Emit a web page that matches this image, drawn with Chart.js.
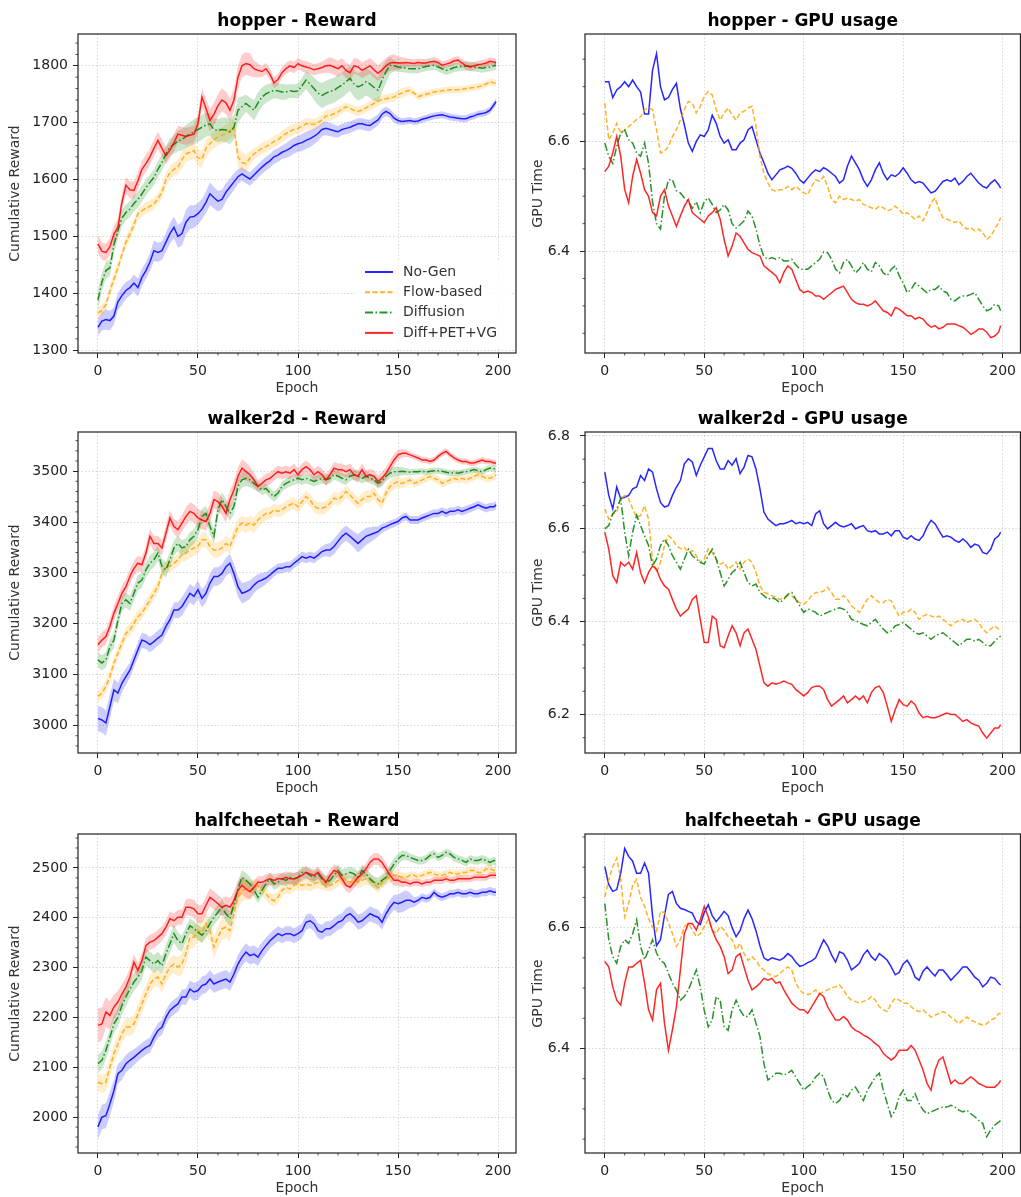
<!DOCTYPE html>
<html>
<head>
<meta charset="utf-8">
<script src="https://cdn.jsdelivr.net/npm/chart.js@4.4.1/dist/chart.umd.min.js"></script>
<style>
  html, body { margin: 0; padding: 0; background: #fff; overflow: hidden; }
  body { width: 1021px; height: 1197px; position: relative; }
  .panel { position: absolute; }
</style>
</head>
<body>
<div class="panel" style="left:0;top:0"><canvas id="c0" width="524" height="399"></canvas></div>
<div class="panel" style="left:520px;top:0"><canvas id="c1" width="501" height="399"></canvas></div>
<div class="panel" style="left:0;top:398px"><canvas id="c2" width="524" height="401"></canvas></div>
<div class="panel" style="left:520px;top:398px"><canvas id="c3" width="501" height="401"></canvas></div>
<div class="panel" style="left:0;top:800px"><canvas id="c4" width="524" height="399"></canvas></div>
<div class="panel" style="left:520px;top:800px"><canvas id="c5" width="501" height="399"></canvas></div>
<script>
// epochs every 2 epochs, last one 199
const epochs = [0,2,4,6,8,10,12,14,16,18, 20,22,24,26,28,30,32,34,36,38, 40,42,44,46,48,50,52,54,56,58, 60,62,64,66,68,70,72,74,76,78, 80,82,84,86,88,90,92,94,96,98,
  100,102,104,106,108,110,112,114,116,118, 120,122,124,126,128,130,132,134,136,138, 140,142,144,146,148,150,152,154,156,158, 160,162,164,166,168,170,172,174,176,178, 180,182,184,186,188,190,192,194,196,198, 199];
const seriesNames = ['No-Gen', 'Flow-based', 'Diffusion', 'Diff+PET+VG'];

// hopper - Reward
const hopperRewardNoGen = [1340,1351,1354,1352,1360,1385,1396,1405,1410,1418, 1410,1428,1440,1455,1475,1472,1475,1490,1505,1516, 1500,1505,1525,1534,1535,1540,1548,1560,1575,1568, 1562,1565,1578,1587,1596,1605,1610,1605,1601,1608, 1615,1622,1628,1633,1640,1643,1648,1651,1655,1660,
  1663,1665,1669,1672,1676,1681,1688,1690,1688,1686, 1684,1688,1690,1692,1695,1698,1698,1696,1695,1700, 1705,1715,1720,1716,1708,1704,1702,1703,1704,1702, 1703,1706,1708,1710,1712,1713,1714,1712,1710,1709, 1708,1707,1707,1710,1712,1715,1716,1718,1722,1732, 1737];
const hopperRewardFlow = [1365,1370,1380,1404,1425,1445,1468,1490,1504,1520, 1540,1545,1550,1553,1557,1566,1578,1600,1612,1618, 1622,1635,1645,1648,1651,1638,1636,1655,1663,1670, 1675,1678,1681,1686,1692,1640,1630,1628,1638,1645, 1650,1655,1658,1662,1667,1670,1676,1681,1685,1688,
  1690,1694,1698,1698,1697,1700,1705,1712,1713,1716, 1719,1724,1728,1725,1722,1720,1722,1726,1730,1734, 1738,1741,1742,1744,1745,1750,1752,1755,1757,1752, 1746,1748,1750,1752,1754,1755,1756,1757,1758,1758, 1758,1759,1760,1761,1762,1763,1765,1768,1772,1770, 1769];
const hopperRewardDiffusion = [1388,1420,1440,1445,1485,1510,1532,1542,1548,1558, 1565,1575,1586,1595,1604,1618,1630,1645,1657,1662, 1668,1670,1676,1680,1684,1688,1692,1696,1698,1688, 1686,1688,1687,1684,1692,1722,1728,1734,1728,1722, 1735,1745,1751,1754,1757,1756,1754,1754,1756,1755,
  1756,1765,1775,1768,1760,1752,1748,1752,1755,1757, 1762,1766,1772,1778,1768,1763,1766,1772,1768,1762, 1757,1775,1790,1801,1800,1798,1797,1796,1795,1795, 1795,1797,1799,1800,1801,1798,1795,1792,1794,1797, 1798,1799,1800,1799,1798,1797,1796,1797,1798,1800, 1801];
const hopperRewardOurs = [1487,1474,1472,1482,1504,1516,1560,1590,1582,1581, 1598,1618,1628,1640,1655,1669,1655,1642,1652,1665, 1680,1678,1676,1678,1680,1698,1745,1725,1704,1715, 1730,1740,1735,1722,1740,1780,1800,1804,1802,1795, 1792,1790,1795,1785,1770,1776,1788,1795,1800,1797,
  1804,1800,1798,1796,1793,1795,1797,1800,1801,1798, 1795,1800,1792,1788,1800,1798,1792,1796,1800,1793, 1787,1793,1800,1805,1806,1805,1805,1806,1805,1804, 1806,1805,1805,1807,1808,1806,1801,1803,1805,1809, 1810,1805,1800,1798,1800,1802,1803,1805,1808,1807, 1805];
const hopperBandNoGen = [15,16,18,17,15,15,16,15,14,15, 16,15,15,16,18,17,16,17,18,19, 20,21,22,21,20,19,18,19,20,19, 18,17,16,15,15,13,12,12,12,12, 12,12,12,12,12,12,12,13,14,14,
  14,15,15,15,14,13,12,12,12,11, 10,10,10,10,10,10,10,10,10,10, 10,9,8,8,8,7,6,6,6,6, 6,6,6,6,6,6,6,6,6,6, 6,6,6,6,6,6,6,6,6,6, 6];
const hopperBandFlow = [10,10,10,10,10,10,10,10,10,10, 10,10,10,10,10,10,11,12,12,12, 13,14,14,14,15,15,15,15,15,15, 15,15,15,15,16,17,18,15,12,10, 10,10,10,10,10,10,10,10,10,10,
  10,10,10,10,10,10,10,10,10,10, 9,8,8,8,8,8,8,8,8,8, 8,8,8,8,8,8,8,8,7,6, 6,6,6,6,6,6,6,6,6,6, 6,6,6,6,6,6,6,6,6,6, 6];
const hopperBandDiffusion = [18,16,15,15,15,15,14,14,14,14, 14,14,14,14,14,14,14,14,15,16, 18,19,20,21,22,22,22,21,20,20, 20,21,22,22,22,22,18,15,16,18, 18,17,16,15,14,14,14,13,12,12,
  13,14,16,18,20,21,22,22,22,22, 22,22,22,22,23,24,24,24,24,23, 22,21,20,15,10,9,8,8,8,8, 8,8,8,8,8,8,8,8,8,8, 8,8,8,8,8,8,8,8,8,8, 8];
const hopperBandOurs = [16,15,15,15,15,15,15,15,15,15, 15,15,15,15,15,15,15,15,15,15, 15,15,15,15,15,15,16,18,20,20, 20,20,20,20,20,20,20,20,20,15, 12,10,10,10,10,10,10,10,10,10,
  10,10,10,10,10,10,10,12,14,14, 14,14,14,14,14,14,14,14,14,14, 14,14,14,14,14,12,10,8,7,7, 7,7,7,7,7,7,7,7,7,7, 7,7,7,7,7,7,7,7,7,7, 7];

// hopper - GPU usage
const hopperGpuNoGen = [6.709,6.709,6.680,6.694,6.700,6.709,6.700,6.712,6.700,6.690, 6.650,6.650,6.730,6.760,6.700,6.676,6.680,6.695,6.706,6.660, 6.630,6.597,6.582,6.600,6.612,6.609,6.621,6.648,6.633,6.609, 6.597,6.603,6.585,6.585,6.597,6.603,6.621,6.627,6.603,6.579, 6.561,6.542,6.530,6.539,6.548,6.551,6.555,6.551,6.542,6.530,
  6.524,6.533,6.542,6.548,6.545,6.552,6.548,6.542,6.536,6.524, 6.530,6.555,6.573,6.561,6.548,6.530,6.518,6.530,6.548,6.561, 6.542,6.530,6.539,6.536,6.542,6.552,6.542,6.530,6.524,6.527, 6.524,6.515,6.506,6.509,6.518,6.527,6.530,6.527,6.533,6.521, 6.527,6.536,6.542,6.533,6.524,6.518,6.515,6.524,6.530,6.521, 6.515];
const hopperGpuFlow = [6.670,6.603,6.615,6.633,6.615,6.621,6.627,6.633,6.640,6.645, 6.658,6.661,6.658,6.621,6.579,6.582,6.591,6.609,6.621,6.639, 6.658,6.673,6.670,6.652,6.664,6.682,6.691,6.685,6.658,6.639, 6.652,6.661,6.648,6.639,6.652,6.655,6.661,6.664,6.627,6.573, 6.542,6.524,6.512,6.509,6.512,6.512,6.518,6.512,6.518,6.512,
  6.506,6.503,6.518,6.530,6.527,6.536,6.518,6.494,6.488,6.500, 6.494,6.497,6.494,6.491,6.494,6.485,6.482,6.479,6.476,6.482, 6.479,6.473,6.476,6.482,6.476,6.467,6.470,6.464,6.458,6.464, 6.455,6.470,6.488,6.497,6.476,6.461,6.458,6.455,6.452,6.455, 6.446,6.440,6.443,6.437,6.440,6.434,6.421,6.427,6.440,6.452, 6.461];
const hopperGpuDiffusion = [6.597,6.573,6.560,6.591,6.615,6.621,6.603,6.597,6.579,6.573, 6.597,6.560,6.490,6.450,6.440,6.500,6.530,6.530,6.510,6.506, 6.497,6.491,6.478,6.490,6.470,6.490,6.497,6.485,6.470,6.475, 6.485,6.475,6.450,6.442,6.448,6.455,6.473,6.464,6.440,6.410, 6.390,6.385,6.388,6.385,6.388,6.382,6.382,6.385,6.375,6.367,
  6.367,6.367,6.373,6.379,6.385,6.398,6.397,6.385,6.367,6.360, 6.379,6.385,6.373,6.360,6.367,6.379,6.367,6.362,6.379,6.373, 6.360,6.355,6.367,6.373,6.355,6.342,6.324,6.330,6.342,6.336, 6.330,6.324,6.330,6.330,6.336,6.327,6.324,6.312,6.309,6.315, 6.318,6.318,6.321,6.324,6.312,6.300,6.291,6.294,6.303,6.300, 6.291];
const hopperGpuOurs = [6.545,6.555,6.579,6.609,6.573,6.512,6.488,6.536,6.567,6.542, 6.512,6.500,6.470,6.464,6.500,6.512,6.482,6.464,6.445,6.464, 6.482,6.494,6.470,6.464,6.458,6.452,6.464,6.470,6.479,6.458, 6.421,6.391,6.409,6.433,6.427,6.415,6.403,6.397,6.394,6.391, 6.373,6.367,6.361,6.355,6.342,6.361,6.373,6.367,6.348,6.330,
  6.324,6.327,6.324,6.318,6.318,6.312,6.318,6.324,6.330,6.333, 6.336,6.324,6.312,6.306,6.303,6.303,6.300,6.303,6.309,6.300, 6.291,6.288,6.282,6.297,6.294,6.288,6.282,6.282,6.276,6.279, 6.276,6.267,6.261,6.264,6.258,6.261,6.267,6.267,6.267,6.264, 6.261,6.255,6.248,6.252,6.258,6.258,6.252,6.242,6.245,6.252, 6.264];

// walker2d - Reward
const walkerRewardNoGen = [3014,3011,3005,3037,3070,3064,3083,3096,3109,3129, 3149,3168,3165,3159,3165,3172,3178,3195,3208,3227, 3227,3234,3247,3260,3254,3267,3250,3260,3280,3293, 3293,3299,3312,3319,3299,3273,3260,3263,3267,3276, 3283,3286,3290,3296,3303,3309,3309,3312,3312,3319,
  3325,3332,3329,3332,3329,3335,3342,3345,3345,3352, 3362,3372,3378,3372,3365,3358,3365,3372,3375,3378, 3381,3388,3391,3395,3398,3401,3408,3411,3404,3404, 3404,3408,3411,3414,3417,3417,3421,3417,3421,3421, 3424,3421,3424,3427,3430,3434,3430,3427,3430,3430, 3434];
const walkerRewardFlow = [3057,3064,3077,3096,3123,3142,3162,3181,3188,3201, 3214,3221,3234,3247,3260,3273,3299,3313,3313,3319, 3326,3336,3339,3345,3349,3352,3365,3365,3352,3345, 3345,3349,3358,3352,3372,3391,3398,3394,3398,3394, 3404,3411,3417,3417,3424,3421,3424,3430,3434,3437,
  3430,3440,3450,3444,3431,3427,3427,3430,3437,3447, 3444,3450,3460,3453,3444,3437,3444,3450,3450,3457, 3444,3437,3457,3470,3476,3479,3476,3479,3483,3476, 3479,3483,3486,3490,3486,3483,3476,3479,3483,3486, 3483,3486,3483,3486,3490,3493,3490,3486,3486,3490, 3493];
const walkerRewardDiffusion = [3129,3123,3129,3155,3168,3207,3240,3247,3240,3260, 3280,3286,3306,3319,3326,3339,3313,3306,3326,3349, 3358,3349,3352,3365,3372,3385,3411,3417,3391,3372, 3424,3444,3431,3417,3431,3470,3483,3486,3483,3476, 3470,3463,3466,3457,3450,3457,3470,3476,3480,3483,
  3486,3483,3486,3483,3480,3483,3486,3483,3486,3493, 3490,3486,3483,3490,3493,3490,3486,3490,3486,3483, 3476,3480,3490,3496,3499,3499,3500,3499,3498,3499, 3499,3500,3498,3500,3501,3501,3500,3498,3496,3497, 3496,3498,3499,3501,3503,3501,3499,3503,3506,3505, 3503];
const walkerRewardOurs = [3159,3168,3175,3195,3221,3240,3260,3273,3293,3309, 3319,3316,3339,3372,3358,3358,3349,3378,3408,3391, 3385,3398,3411,3421,3417,3408,3404,3401,3417,3444, 3440,3431,3417,3444,3463,3490,3506,3499,3493,3483, 3470,3476,3483,3486,3493,3499,3496,3499,3496,3503,
  3493,3503,3509,3503,3493,3499,3493,3483,3493,3506, 3503,3503,3499,3503,3493,3490,3503,3490,3493,3490, 3480,3486,3496,3509,3522,3532,3535,3535,3532,3529, 3526,3522,3522,3519,3522,3529,3535,3539,3532,3526, 3522,3519,3519,3516,3516,3519,3522,3519,3519,3516, 3516];
const walkerBandNoGen = [25,25,25,24,22,20,18,16,15,15, 15,15,15,15,15,15,15,15,15,15, 16,18,18,18,18,18,18,18,18,18, 18,18,18,18,19,20,20,19,18,16, 15,14,12,11,10,10,10,10,10,10,
  10,10,10,10,10,10,11,12,14,15, 15,15,15,15,16,18,18,17,15,13, 10,9,8,8,8,8,8,8,8,8, 8,8,8,8,8,8,8,8,8,8, 8,8,8,8,8,8,8,8,8,8, 8];
const walkerBandFlow = [12,12,12,12,12,12,12,12,12,12, 12,12,12,12,12,12,12,12,12,12, 13,14,15,15,15,15,15,15,15,15, 15,15,15,15,15,15,15,15,15,15, 15,14,13,12,12,12,12,12,12,12,
  12,12,12,12,12,12,12,12,12,12, 12,12,12,12,12,12,12,12,12,12, 12,12,12,12,12,11,10,9,8,8, 8,8,8,8,8,8,8,8,8,8, 8,8,8,8,8,8,8,8,8,8, 8];
const walkerBandDiffusion = [15,15,15,15,15,15,15,15,15,15, 15,15,15,15,15,15,15,15,15,15, 15,15,15,15,15,15,15,15,15,15, 15,15,15,15,15,15,15,15,14,12, 10,10,10,10,10,10,10,10,10,10,
  10,10,10,10,10,10,10,10,10,10, 10,10,10,10,10,10,10,10,10,10, 10,10,10,10,10,9,8,7,6,6, 6,6,6,6,6,6,6,6,6,6, 6,6,6,6,6,6,6,6,6,6, 6];
const walkerBandOurs = [15,15,15,15,15,15,15,15,15,15, 15,15,15,15,15,15,15,15,15,15, 16,17,18,18,18,18,18,18,18,18, 18,18,18,18,18,18,18,18,16,14, 12,12,12,12,12,12,12,12,12,12,
  12,12,12,12,12,12,12,12,12,12, 12,12,12,12,12,12,12,12,12,12, 12,12,12,12,12,10,8,7,6,6, 6,6,6,6,6,6,6,6,6,6, 6,6,6,6,6,6,6,6,6,6, 6];

// walker2d - GPU usage
const walkerGpuNoGen = [6.722,6.672,6.643,6.690,6.665,6.668,6.672,6.686,6.690,6.715, 6.704,6.729,6.722,6.686,6.657,6.647,6.650,6.672,6.690,6.704, 6.740,6.751,6.744,6.715,6.737,6.755,6.773,6.773,6.747,6.729, 6.729,6.747,6.737,6.751,6.719,6.733,6.758,6.755,6.729,6.686, 6.636,6.621,6.614,6.607,6.611,6.611,6.614,6.618,6.611,6.614,
  6.611,6.614,6.607,6.632,6.639,6.611,6.600,6.607,6.614,6.607, 6.604,6.607,6.611,6.600,6.604,6.607,6.596,6.593,6.596,6.589, 6.589,6.593,6.585,6.596,6.596,6.582,6.578,6.585,6.578,6.575, 6.585,6.604,6.618,6.611,6.596,6.582,6.585,6.582,6.575,6.571, 6.578,6.571,6.560,6.567,6.564,6.549,6.546,6.556,6.578,6.585, 6.593];
const walkerGpuFlow = [6.643,6.621,6.632,6.636,6.665,6.672,6.665,6.643,6.625,6.629, 6.650,6.621,6.535,6.506,6.528,6.564,6.585,6.578,6.564,6.557, 6.560,6.549,6.553,6.542,6.528,6.535,6.557,6.549,6.535,6.524, 6.528,6.513,6.520,6.528,6.513,6.528,6.535,6.528,6.506,6.477, 6.463,6.460,6.456,6.452,6.448,6.452,6.456,6.456,6.448,6.441,
  6.437,6.445,6.456,6.463,6.463,6.466,6.474,6.463,6.448,6.448, 6.456,6.448,6.434,6.427,6.420,6.434,6.448,6.456,6.448,6.441, 6.441,6.448,6.445,6.427,6.412,6.420,6.420,6.427,6.420,6.405, 6.412,6.416,6.412,6.409,6.412,6.405,6.398,6.391,6.398,6.402, 6.405,6.398,6.402,6.405,6.398,6.384,6.376,6.384,6.391,6.384, 6.380];
const walkerGpuDiffusion = [6.600,6.607,6.632,6.643,6.665,6.593,6.542,6.593,6.629,6.607, 6.585,6.564,6.520,6.535,6.564,6.578,6.564,6.542,6.528,6.513, 6.535,6.556,6.542,6.535,6.528,6.524,6.542,6.556,6.535,6.506, 6.477,6.491,6.506,6.513,6.528,6.506,6.484,6.477,6.481,6.463, 6.456,6.448,6.452,6.448,6.441,6.448,6.459,6.463,6.448,6.434,
  6.420,6.427,6.424,6.420,6.412,6.416,6.420,6.424,6.427,6.430, 6.427,6.420,6.405,6.402,6.398,6.394,6.391,6.398,6.405,6.394, 6.384,6.376,6.380,6.391,6.394,6.398,6.391,6.384,6.376,6.373, 6.376,6.369,6.362,6.369,6.373,6.376,6.369,6.362,6.355,6.348, 6.355,6.362,6.362,6.358,6.362,6.355,6.348,6.348,6.358,6.366, 6.369];
const walkerGpuOurs = [6.593,6.556,6.499,6.484,6.528,6.520,6.528,6.513,6.549,6.506, 6.484,6.506,6.520,6.513,6.491,6.477,6.470,6.448,6.427,6.412, 6.420,6.427,6.448,6.456,6.405,6.355,6.355,6.412,6.405,6.348, 6.344,6.369,6.391,6.376,6.348,6.376,6.384,6.362,6.340,6.304, 6.268,6.261,6.268,6.265,6.268,6.272,6.268,6.265,6.254,6.247,
  6.240,6.247,6.258,6.261,6.261,6.254,6.232,6.218,6.225,6.232, 6.240,6.225,6.232,6.240,6.232,6.240,6.225,6.247,6.258,6.261, 6.247,6.218,6.185,6.210,6.232,6.221,6.218,6.229,6.221,6.203, 6.193,6.196,6.193,6.193,6.196,6.200,6.203,6.200,6.200,6.193, 6.185,6.189,6.182,6.178,6.175,6.160,6.149,6.160,6.171,6.171, 6.178];

// halfcheetah - Reward
const cheetahRewardNoGen = [1980,2000,2003,2027,2053,2087,2094,2107,2114,2120, 2127,2134,2140,2144,2160,2174,2180,2200,2214,2221, 2227,2241,2241,2257,2251,2254,2264,2267,2277,2267, 2271,2274,2277,2271,2287,2307,2321,2331,2324,2327, 2321,2334,2344,2354,2361,2368,2364,2368,2368,2364,
  2368,2374,2391,2394,2388,2374,2371,2378,2378,2384, 2391,2394,2404,2408,2401,2391,2394,2401,2408,2404, 2401,2391,2408,2421,2431,2428,2431,2435,2435,2431, 2435,2441,2438,2441,2451,2444,2441,2444,2448,2448, 2451,2448,2448,2451,2448,2448,2451,2451,2454,2451, 2451];
const cheetahRewardFlow = [2070,2067,2070,2100,2127,2147,2167,2181,2181,2187, 2207,2227,2247,2267,2277,2281,2267,2287,2301,2307, 2301,2307,2328,2361,2361,2374,2371,2388,2374,2341, 2361,2378,2381,2374,2408,2441,2455,2458,2455,2461, 2465,2455,2448,2438,2434,2441,2455,2461,2458,2465,
  2468,2465,2468,2465,2468,2471,2468,2465,2465,2468, 2475,2478,2475,2471,2475,2471,2475,2478,2475,2468, 2461,2471,2478,2481,2485,2485,2481,2481,2485,2485, 2481,2485,2488,2491,2488,2485,2485,2488,2491,2488, 2488,2491,2491,2495,2495,2491,2491,2498,2498,2495, 2495];
const cheetahRewardDiffusion = [2107,2114,2134,2160,2187,2200,2224,2241,2257,2271, 2281,2294,2321,2314,2307,2314,2304,2328,2348,2368, 2354,2348,2368,2384,2378,2371,2365,2374,2388,2401, 2411,2421,2408,2398,2428,2458,2481,2475,2468,2455, 2441,2455,2468,2478,2468,2471,2478,2475,2481,2478,
  2481,2491,2491,2485,2481,2488,2478,2471,2475,2485, 2495,2485,2488,2491,2488,2481,2495,2488,2478,2471, 2468,2475,2481,2495,2508,2518,2525,2525,2521,2518, 2515,2515,2518,2525,2528,2521,2525,2531,2528,2521, 2518,2515,2511,2518,2515,2515,2518,2515,2511,2515, 2511];
const cheetahRewardOurs = [2184,2187,2211,2204,2221,2231,2247,2261,2281,2311, 2294,2314,2344,2351,2354,2361,2368,2381,2398,2394, 2401,2401,2421,2421,2418,2408,2408,2425,2441,2435, 2428,2421,2425,2421,2435,2455,2465,2458,2452,2461, 2471,2471,2475,2478,2475,2478,2478,2481,2478,2478,
  2481,2485,2491,2488,2485,2491,2481,2471,2485,2495, 2491,2478,2465,2461,2471,2481,2488,2498,2511,2518, 2518,2511,2498,2485,2475,2475,2471,2471,2468,2471, 2471,2468,2471,2471,2475,2475,2475,2478,2475,2475, 2478,2478,2478,2478,2481,2481,2481,2481,2485,2485, 2485];
const cheetahBandNoGen = [25,25,25,24,22,20,19,18,17,16, 15,15,15,15,15,15,15,15,15,15, 15,15,16,17,18,18,18,18,18,18, 18,18,18,18,18,18,18,18,18,18, 18,17,16,15,15,15,15,15,15,15,
  15,15,15,15,15,15,15,15,15,15, 15,15,15,15,15,15,15,15,15,15, 15,15,15,15,15,18,20,20,15,10, 8,8,8,8,8,8,8,8,8,8, 8,8,8,8,8,8,8,8,8,8, 8];
const cheetahBandFlow = [18,18,18,18,18,18,18,18,18,18, 18,18,18,18,18,18,18,18,18,18, 20,21,22,22,22,22,22,22,22,22, 22,22,22,22,22,22,22,22,20,16, 12,12,12,12,12,12,12,12,12,12,
  12,12,12,12,12,12,12,12,12,12, 12,12,12,12,12,12,12,12,12,12, 12,12,12,12,12,11,10,9,8,8, 8,8,8,8,8,8,8,8,8,8, 8,8,8,8,8,8,8,8,8,8, 8];
const cheetahBandDiffusion = [18,18,18,18,18,18,18,18,18,18, 18,18,18,18,18,18,18,18,18,18, 17,16,15,15,15,15,15,15,15,15, 15,15,15,15,15,15,15,15,14,13, 12,12,12,12,12,12,12,12,12,12,
  12,12,12,12,12,12,12,12,12,12, 12,12,12,12,12,12,12,12,12,12, 12,12,12,12,12,11,10,9,8,8, 8,8,8,8,8,8,8,8,8,8, 8,8,8,8,8,8,8,8,8,8, 8];
const cheetahBandOurs = [35,33,30,28,25,22,20,19,18,16, 15,15,15,15,15,15,15,15,15,15, 15,15,16,17,18,18,18,18,18,18, 18,18,18,18,18,18,18,18,15,13, 12,12,12,12,12,12,12,12,12,12,
  12,12,12,12,12,12,12,12,12,12, 12,12,12,12,12,12,12,12,12,12, 12,12,12,12,12,11,10,8,7,7, 7,7,7,7,7,7,7,7,7,7, 7,7,7,7,7,7,7,7,7,7, 7];

// halfcheetah - GPU usage
const cheetahGpuNoGen = [6.701,6.671,6.660,6.663,6.690,6.731,6.718,6.710,6.690,6.690, 6.707,6.690,6.620,6.570,6.580,6.620,6.655,6.660,6.640,6.632, 6.630,6.627,6.624,6.610,6.605,6.625,6.638,6.620,6.610,6.618, 6.627,6.620,6.600,6.585,6.595,6.615,6.629,6.615,6.595,6.570, 6.550,6.546,6.550,6.548,6.546,6.550,6.557,6.552,6.543,6.536,
  6.538,6.542,6.545,6.550,6.565,6.580,6.570,6.555,6.543,6.560, 6.557,6.546,6.530,6.535,6.541,6.555,6.563,6.552,6.546,6.557, 6.552,6.546,6.535,6.522,6.526,6.540,6.546,6.535,6.518,6.513, 6.528,6.535,6.527,6.520,6.530,6.530,6.522,6.513,6.520,6.527, 6.535,6.535,6.527,6.518,6.513,6.502,6.508,6.518,6.516,6.508, 6.505];
const cheetahGpuFlow = [6.651,6.679,6.701,6.715,6.680,6.618,6.640,6.670,6.680,6.650, 6.635,6.615,6.600,6.594,6.627,6.625,6.608,6.590,6.569,6.580, 6.602,6.607,6.596,6.585,6.590,6.602,6.613,6.596,6.590,6.602, 6.596,6.585,6.580,6.563,6.574,6.557,6.546,6.552,6.546,6.535, 6.530,6.524,6.521,6.519,6.524,6.530,6.535,6.530,6.508,6.497,
  6.491,6.489,6.491,6.497,6.491,6.494,6.497,6.500,6.502,6.505, 6.497,6.486,6.480,6.478,6.475,6.478,6.480,6.486,6.480,6.469, 6.464,6.461,6.475,6.483,6.480,6.475,6.475,6.469,6.464,6.461, 6.464,6.458,6.452,6.455,6.458,6.461,6.458,6.452,6.447,6.441, 6.447,6.452,6.447,6.444,6.441,6.439,6.441,6.447,6.450,6.458, 6.458];
const cheetahGpuDiffusion = [6.640,6.580,6.552,6.541,6.569,6.580,6.574,6.590,6.613,6.569, 6.547,6.563,6.580,6.558,6.546,6.541,6.524,6.508,6.497,6.480, 6.486,6.497,6.513,6.530,6.502,6.463,6.436,6.447,6.486,6.480, 6.436,6.430,6.464,6.480,6.464,6.453,6.453,6.464,6.442,6.420, 6.375,6.348,6.353,6.359,6.359,6.356,6.359,6.364,6.353,6.342,
  6.331,6.337,6.342,6.353,6.359,6.353,6.331,6.314,6.309,6.314, 6.325,6.320,6.331,6.336,6.325,6.314,6.331,6.342,6.353,6.359, 6.331,6.309,6.287,6.298,6.320,6.331,6.314,6.314,6.325,6.309, 6.298,6.292,6.295,6.298,6.301,6.303,6.303,6.306,6.303,6.298, 6.295,6.298,6.292,6.287,6.281,6.276,6.254,6.265,6.273,6.278, 6.281];
const cheetahGpuOurs = [6.544,6.535,6.502,6.480,6.472,6.508,6.535,6.535,6.541,6.546, 6.508,6.464,6.447,6.497,6.508,6.442,6.397,6.431,6.469,6.530, 6.590,6.607,6.607,6.596,6.613,6.635,6.618,6.596,6.580,6.569, 6.552,6.524,6.530,6.552,6.557,6.535,6.513,6.497,6.502,6.508, 6.516,6.513,6.516,6.508,6.510,6.497,6.486,6.475,6.469,6.464,
  6.464,6.458,6.469,6.480,6.491,6.486,6.469,6.458,6.447,6.447, 6.453,6.447,6.436,6.430,6.427,6.422,6.419,6.414,6.408,6.403, 6.392,6.386,6.381,6.386,6.397,6.397,6.397,6.405,6.397,6.381, 6.364,6.342,6.331,6.364,6.381,6.386,6.364,6.342,6.348,6.342, 6.342,6.348,6.353,6.348,6.342,6.339,6.336,6.336,6.336,6.342, 6.347];

// styles
const FONT = "'DejaVu Sans', sans-serif";
const lineStyles = [
  { rgb: '0,0,255', dash: [] },
  { rgb: '255,165,0', dash: [5, 2.5] },
  { rgb: '0,128,0', dash: [8, 2.5, 1.5, 2.5] },
  { rgb: '255,0,0', dash: [] }
];

// spines, minor ticks and the title centred over the axes
const framePlugin = {
  id: 'frame',
  afterDraw(chart, args, opts) {
    const { ctx, chartArea: a, scales } = chart;
    const x = scales.x, y = scales.y;
    ctx.save();
    ctx.strokeStyle = '#222';
    ctx.lineWidth = 0.8;
    ctx.beginPath();
    for (let k = Math.ceil(x.min / opts.minorX); k * opts.minorX <= x.max; k++) {
      const v = k * opts.minorX;
      if (Math.abs(v / opts.majorX - Math.round(v / opts.majorX)) < 1e-6) continue;
      const px = x.getPixelForValue(v);
      ctx.moveTo(px, a.bottom);
      ctx.lineTo(px, a.bottom + 2.5);
    }
    for (let k = Math.ceil(y.min / opts.minorY - 1e-9); k * opts.minorY <= y.max + 1e-9; k++) {
      const v = k * opts.minorY;
      if (Math.abs(v / opts.majorY - Math.round(v / opts.majorY)) < 1e-6) continue;
      const py = y.getPixelForValue(v);
      ctx.moveTo(a.left, py);
      ctx.lineTo(a.left - 2.5, py);
    }
    ctx.stroke();
    ctx.lineWidth = 1.2;
    ctx.strokeRect(a.left, a.top, a.right - a.left, a.bottom - a.top);

    ctx.fillStyle = '#000';
    ctx.font = 'bold 17px ' + FONT;
    ctx.textAlign = 'center';
    ctx.textBaseline = 'middle';
    ctx.fillText(opts.title, (a.left + a.right) / 2, a.top - 12.3);
    ctx.restore();
  }
};

const insideLegend = {
  id: 'insideLegend',
  afterDraw(chart, args, opts) {
    if (!opts.display) return;
    const { ctx, chartArea: a } = chart;
    const lines = chart.data.datasets.filter(d => d.isLine);
    ctx.save();
    ctx.fillStyle = 'rgba(255,255,255,0.8)';
    ctx.fillRect(a.right - 158, a.bottom - 93, 154, 88);
    ctx.font = '14px ' + FONT;
    ctx.textAlign = 'left';
    ctx.textBaseline = 'middle';
    lines.forEach((d, i) => {
      const yy = a.bottom - 81 + i * 20.3;
      ctx.strokeStyle = d.borderColor;
      ctx.lineWidth = 2;
      ctx.setLineDash(d.borderDash);
      ctx.beginPath();
      ctx.moveTo(a.right - 151, yy);
      ctx.lineTo(a.right - 123, yy);
      ctx.stroke();
      ctx.setLineDash([]);
      ctx.fillStyle = '#333';
      ctx.fillText(d.label, a.right - 113, yy);
    });
    ctx.restore();
  }
};

function makePanel(id, cfg) {
  const datasets = [];
  cfg.series.forEach((vals, s) => {
    const st = lineStyles[s];
    if (cfg.bands) {
      const w = cfg.bands[s];
      datasets.push({
        data: epochs.map((e, i) => ({ x: e, y: vals[i] + w[i] })),
        fill: '+1', backgroundColor: 'rgba(' + st.rgb + ',0.2)',
        borderColor: 'transparent', borderWidth: 0, pointRadius: 0, order: 13 - s
      });
      datasets.push({
        data: epochs.map((e, i) => ({ x: e, y: vals[i] - w[i] })),
        fill: false, borderColor: 'transparent', borderWidth: 0, pointRadius: 0, order: 13 - s
      });
    }
    datasets.push({
      label: seriesNames[s], isLine: true,
      data: epochs.map((e, i) => ({ x: e, y: vals[i] })),
      borderColor: 'rgba(' + st.rgb + ',0.85)', borderDash: st.dash,
      borderWidth: 1.5, pointRadius: 0, fill: false, tension: 0, order: 3 - s
    });
  });

  const grid = { color: 'rgba(0,0,0,0.2)', lineWidth: 0.8, tickLength: 5, tickColor: '#222', tickWidth: 1, tickBorderDash: [] };
  const border = { display: false, dash: [1.5, 2] };
  const tickFont = { family: FONT, size: 14 };

  new Chart(document.getElementById(id), {
    type: 'line',
    data: { datasets: datasets },
    plugins: [framePlugin, insideLegend],
    options: {
      responsive: false,
      animation: false,
      events: [],
      layout: { padding: { left: 0, right: cfg.padRight, top: 34, bottom: 0 } },
      plugins: {
        legend: { display: false },
        tooltip: { enabled: false },
        frame: { title: cfg.title, minorX: 10, majorX: 50, minorY: cfg.minorY, majorY: cfg.stepY },
        insideLegend: { display: !!cfg.legend }
      },
      scales: {
        x: {
          type: 'linear', min: -9.95, max: 208.95,
          afterFit(s) { s.height = 46; },
          ticks: { stepSize: 50, includeBounds: false, padding: 5, color: '#222', font: tickFont, maxRotation: 0, autoSkip: false },
          grid: grid, border: border,
          title: { display: true, text: 'Epoch', color: '#333', font: tickFont, padding: { top: 0, bottom: 2.6 } }
        },
        y: {
          type: 'linear', min: cfg.yMin, max: cfg.yMax,
          afterFit(s) { s.width = cfg.yWidth; },
          ticks: { stepSize: cfg.stepY, includeBounds: false, padding: cfg.yPad, color: '#222', font: tickFont,
                   callback: v => cfg.stepY < 1 ? v.toFixed(1) : String(v) },
          grid: grid, border: border,
          title: { display: true, text: cfg.yTitle, color: '#333', font: tickFont, padding: { top: cfg.yTitlePad, bottom: 0 } }
        }
      }
    }
  });
}

const leftCol = { padRight: 8, yWidth: 78, yPad: 5, yTitlePad: 6.6, yTitle: 'Cumulative Reward', stepY: 100, minorY: 20 };
const rightCol = { padRight: 0, yWidth: 65, yPad: 10, yTitlePad: 9.6, yTitle: 'GPU Time', stepY: 0.2, minorY: 0.05 };

makePanel('c0', Object.assign({}, leftCol, {
  title: 'hopper - Reward', yMin: 1295, yMax: 1856, legend: true,
  series: [hopperRewardNoGen, hopperRewardFlow, hopperRewardDiffusion, hopperRewardOurs],
  bands: [hopperBandNoGen, hopperBandFlow, hopperBandDiffusion, hopperBandOurs]
}));
makePanel('c1', Object.assign({}, rightCol, {
  title: 'hopper - GPU usage', yMin: 6.214, yMax: 6.796,
  series: [hopperGpuNoGen, hopperGpuFlow, hopperGpuDiffusion, hopperGpuOurs]
}));
makePanel('c2', Object.assign({}, leftCol, {
  title: 'walker2d - Reward', yMin: 2946, yMax: 3577,
  series: [walkerRewardNoGen, walkerRewardFlow, walkerRewardDiffusion, walkerRewardOurs],
  bands: [walkerBandNoGen, walkerBandFlow, walkerBandDiffusion, walkerBandOurs]
}));
makePanel('c3', Object.assign({}, rightCol, {
  title: 'walker2d - GPU usage', yMin: 6.117, yMax: 6.8086,
  series: [walkerGpuNoGen, walkerGpuFlow, walkerGpuDiffusion, walkerGpuOurs]
}));
makePanel('c4', Object.assign({}, leftCol, {
  title: 'halfcheetah - Reward', yMin: 1928, yMax: 2568,
  series: [cheetahRewardNoGen, cheetahRewardFlow, cheetahRewardDiffusion, cheetahRewardOurs],
  bands: [cheetahBandNoGen, cheetahBandFlow, cheetahBandDiffusion, cheetahBandOurs]
}));
makePanel('c5', Object.assign({}, rightCol, {
  title: 'halfcheetah - GPU usage', yMin: 6.227, yMax: 6.755,
  series: [cheetahGpuNoGen, cheetahGpuFlow, cheetahGpuDiffusion, cheetahGpuOurs]
}));
</script>
</body>
</html>
